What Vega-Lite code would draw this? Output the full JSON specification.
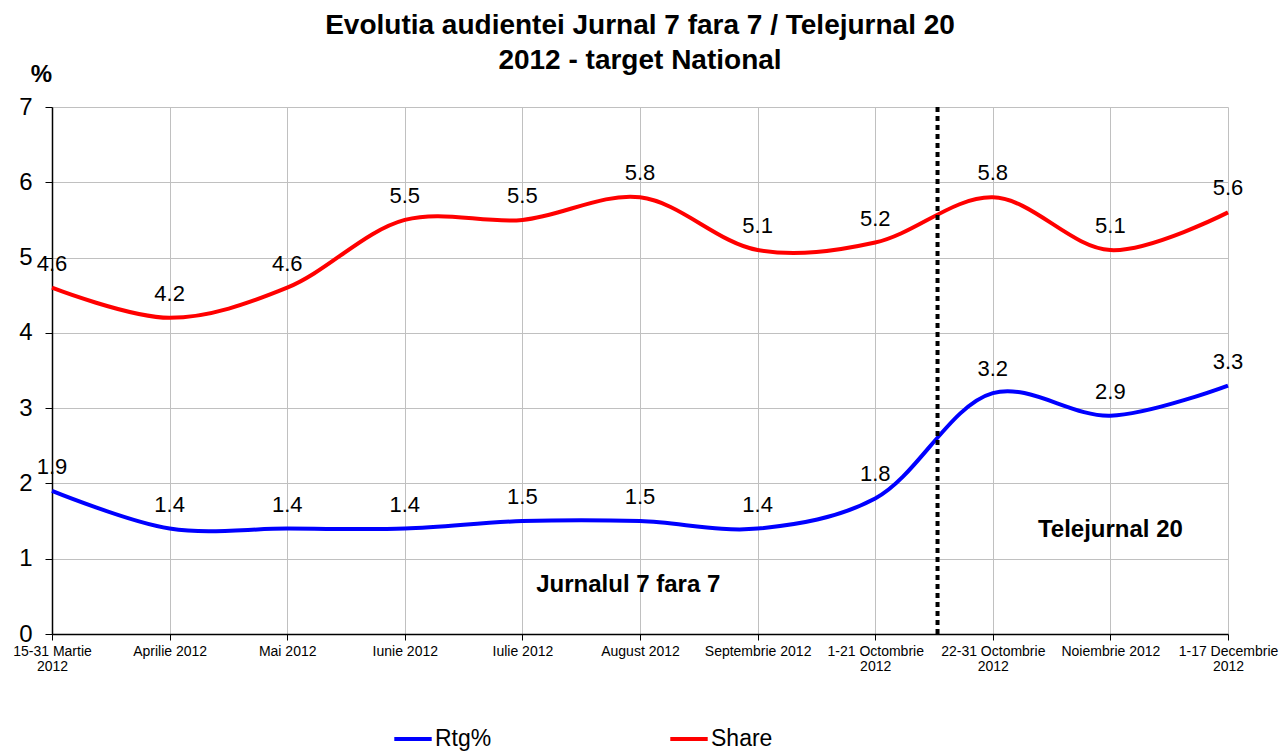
{
  "$schema": "https://vega.github.io/schema/vega-lite/v6.json",
  "width": 1176,
  "height": 527,
  "autosize": "none",
  "padding": {"left": 52, "top": 107, "right": 57, "bottom": 119},
  "background": "white",
  "config": {
    "font": "Liberation Sans",
    "view": {"stroke": null}
  },
  "title": {
    "text": ["Evolutia audientei Jurnal 7 fara 7 / Telejurnal 20", "2012 - target National"],
    "fontSize": 28,
    "fontWeight": "bold",
    "font": "Liberation Sans",
    "color": "black",
    "anchor": "middle",
    "lineHeight": 35,
    "offset": -13
  },
  "datasets": {
    "main": [
      {"i": 0, "period": "15-31 Martie 2012", "series": "Rtg%", "value": 1.9},
      {"i": 1, "period": "Aprilie 2012", "series": "Rtg%", "value": 1.4},
      {"i": 2, "period": "Mai 2012", "series": "Rtg%", "value": 1.4},
      {"i": 3, "period": "Iunie 2012", "series": "Rtg%", "value": 1.4},
      {"i": 4, "period": "Iulie 2012", "series": "Rtg%", "value": 1.5},
      {"i": 5, "period": "August 2012", "series": "Rtg%", "value": 1.5},
      {"i": 6, "period": "Septembrie 2012", "series": "Rtg%", "value": 1.4},
      {"i": 7, "period": "1-21 Octombrie 2012", "series": "Rtg%", "value": 1.8},
      {"i": 8, "period": "22-31 Octombrie 2012", "series": "Rtg%", "value": 3.2},
      {"i": 9, "period": "Noiembrie 2012", "series": "Rtg%", "value": 2.9},
      {"i": 10, "period": "1-17 Decembrie 2012", "series": "Rtg%", "value": 3.3},
      {"i": 0, "period": "15-31 Martie 2012", "series": "Share", "value": 4.6},
      {"i": 1, "period": "Aprilie 2012", "series": "Share", "value": 4.2},
      {"i": 2, "period": "Mai 2012", "series": "Share", "value": 4.6},
      {"i": 3, "period": "Iunie 2012", "series": "Share", "value": 5.5},
      {"i": 4, "period": "Iulie 2012", "series": "Share", "value": 5.5},
      {"i": 5, "period": "August 2012", "series": "Share", "value": 5.8},
      {"i": 6, "period": "Septembrie 2012", "series": "Share", "value": 5.1},
      {"i": 7, "period": "1-21 Octombrie 2012", "series": "Share", "value": 5.2},
      {"i": 8, "period": "22-31 Octombrie 2012", "series": "Share", "value": 5.8},
      {"i": 9, "period": "Noiembrie 2012", "series": "Share", "value": 5.1},
      {"i": 10, "period": "1-17 Decembrie 2012", "series": "Share", "value": 5.6}
    ],
    "notes": [
      {"i": 4.9, "value": 0.65, "note": "Jurnalul 7 fara 7"},
      {"i": 9.0, "value": 1.38, "note": "Telejurnal 20"}
    ],
    "divider": [
      {"i": 7.53}
    ]
  },
  "layer": [
    {
      "data": {"name": "main"},
      "mark": {"type": "line", "strokeWidth": 4, "interpolate": "catmull-rom"},
      "encoding": {
        "x": {
          "field": "i",
          "type": "quantitative",
          "scale": {"domain": [0, 10], "nice": false, "zero": false},
          "axis": {
            "title": null,
            "values": [0, 1, 2, 3, 4, 5, 6, 7, 8, 9, 10],
            "labelExpr": "split(['15-31 Martie|2012','Aprilie 2012','Mai 2012','Iunie 2012','Iulie 2012','August 2012','Septembrie 2012','1-21 Octombrie|2012','22-31 Octombrie|2012','Noiembrie 2012','1-17 Decembrie|2012'][datum.value], '|')",
            "labelFontSize": 14,
            "labelColor": "black",
            "labelPadding": 4,
            "labelLineHeight": 15,
            "labelFlush": false,
            "labelOverlap": false,
            "tickSize": 6,
            "tickColor": "black",
            "domainColor": "black",
            "domainWidth": 1.5,
            "grid": true,
            "gridColor": "#c0c0c0",
            "gridWidth": 1
          }
        },
        "y": {
          "field": "value",
          "type": "quantitative",
          "scale": {"domain": [0, 7], "nice": false},
          "axis": {
            "title": "%",
            "titleAngle": 0,
            "titleFontSize": 24,
            "titleFontWeight": "bold",
            "titleColor": "black",
            "titleX": -11,
            "titleY": -26,
            "titleAlign": "center",
            "titleBaseline": "alphabetic",
            "values": [0, 1, 2, 3, 4, 5, 6, 7],
            "format": "d",
            "labelFontSize": 24,
            "labelColor": "black",
            "labelPadding": 13,
            "tickSize": 7,
            "tickColor": "black",
            "domainColor": "black",
            "domainWidth": 1.5,
            "grid": true,
            "gridColor": "#c0c0c0",
            "gridWidth": 1
          }
        },
        "color": {
          "field": "series",
          "type": "nominal",
          "scale": {"domain": ["Rtg%", "Share"], "range": ["#0000ff", "#ff0000"]},
          "legend": {
            "title": null,
            "orient": "none",
            "legendX": 340,
            "legendY": 611,
            "direction": "horizontal",
            "symbolType": "stroke",
            "symbolStrokeWidth": 4,
            "symbolSize": 1400,
            "labelFontSize": 23,
            "labelColor": "black",
            "labelOffset": 1,
            "columnPadding": 170
          }
        }
      }
    },
    {
      "data": {"name": "main"},
      "mark": {"type": "text", "fontSize": 22, "dy": -24, "color": "black"},
      "encoding": {
        "x": {"field": "i", "type": "quantitative"},
        "y": {"field": "value", "type": "quantitative"},
        "text": {"field": "value", "type": "quantitative", "format": ".1f"}
      }
    },
    {
      "data": {"name": "divider"},
      "mark": {"type": "rule", "strokeWidth": 4, "strokeDash": [5, 4], "color": "black"},
      "encoding": {
        "x": {"field": "i", "type": "quantitative"}
      }
    },
    {
      "data": {"name": "notes"},
      "mark": {"type": "text", "fontSize": 24, "fontWeight": "bold", "color": "black"},
      "encoding": {
        "x": {"field": "i", "type": "quantitative"},
        "y": {"field": "value", "type": "quantitative"},
        "text": {"field": "note", "type": "nominal"}
      }
    }
  ]
}
